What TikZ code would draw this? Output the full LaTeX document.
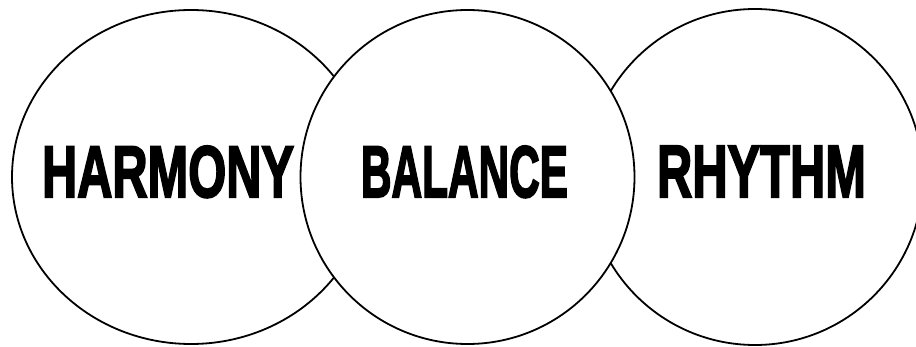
\documentclass[tikz,border=0pt]{standalone}
\usepackage{fontspec}
\newfontfamily\wordfont[FakeBold=3]{Liberation Sans}
\usetikzlibrary{shapes.geometric, positioning}

\begin{document}
\begin{tikzpicture}[
        x=1pt, y=1pt,
        ring/.style={draw, fill=white, line width=1.8pt, inner sep=0pt},
        word/.style={inner sep=0pt, anchor=base, font=\wordfont\bfseries}
    ]
        \useasboundingbox[fill=white] (0,0) rectangle (916,346);

        % outer rings first, the middle one lies over them
        \node[ring, ellipse, minimum width=358pt, minimum height=334pt] (left)  at (191,169)   {};
        \node[ring, circle,  minimum size=336pt]                       (right) at (755,169)   {};
        \node[ring, circle,  minimum size=334pt]                       (mid)   at (467.5,169) {};

        \node[word] (harmony) at (168,149)   {\resizebox{252pt}{51pt}{HARMONY}};
        \node[word] (balance) at (464.5,149) {\resizebox{207pt}{51pt}{BALANCE}};
        \node[word] (rhythm)  at (761.5,149) {\resizebox{209pt}{51pt}{RHYTHM}};
    \end{tikzpicture}
\end{document}
